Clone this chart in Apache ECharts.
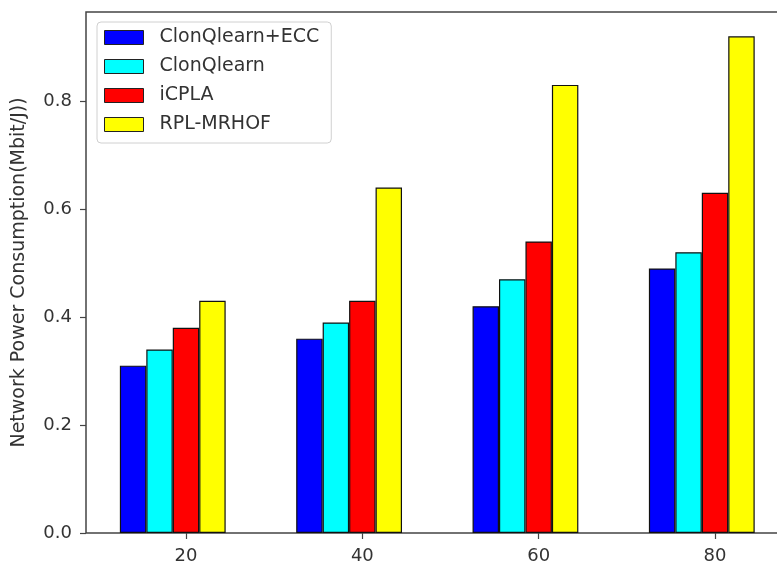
<!DOCTYPE html>
<html>
<head>
<meta charset="utf-8">
<script src="https://cdn.jsdelivr.net/npm/echarts@6/dist/echarts.min.js"></script>
<style>html,body{margin:0;padding:0;background:#fff;overflow:hidden;}#c{width:800px;height:567px;}</style>
</head>
<body>
<div id="c"></div>
<script>
var categories = [20, 40, 60, 80];
var seriesNames = ['ClonQlearn+ECC', 'ClonQlearn', 'iCPLA', 'RPL-MRHOF'];
var clonEcc = [0.31, 0.36, 0.42, 0.49];
var clon = [0.34, 0.39, 0.47, 0.52];
var icpla = [0.38, 0.43, 0.54, 0.63];
var rpl = [0.43, 0.64, 0.83, 0.92];
var yTicks = [0.0, 0.2, 0.4, 0.6, 0.8];

var colors = ['#0000ff', '#00ffff', '#ff0000', '#ffff00'];
var offsets = [-2, -1, 0, 1];
var barUnit = 3;
var xMin = 8.66, xMax = 88.05;
var gridW = 700;
var pxPerUnit = gridW / (xMax - xMin);
var values = [clonEcc, clon, icpla, rpl];

var series = values.map(function (vals, i) {
  return {
    name: seriesNames[i],
    type: 'bar',
    barWidth: barUnit * pxPerUnit,
    barGap: '-100%',
    itemStyle: { color: colors[i], borderColor: '#111', borderWidth: 1.2 },
    data: vals.map(function (v, j) { return [categories[j] + offsets[i] * barUnit, v]; })
  };
});

var chart = echarts.init(document.getElementById('c'), null, { renderer: 'canvas' });
chart.setOption({
  backgroundColor: '#fff',
  animation: false,
  textStyle: { fontFamily: 'DejaVu Sans' },
  grid: { left: 86, top: 12, width: gridW, height: 521, show: true, borderColor: '#444', borderWidth: 1.5, backgroundColor: 'transparent' },
  legend: {
    orient: 'vertical',
    left: 97, top: 22,
    data: seriesNames,
    icon: 'rect',
    itemWidth: 39, itemHeight: 14,
    itemGap: 10,
    padding: [6, 12, 9, 7],
    borderColor: '#d0d0d0', borderWidth: 1, borderRadius: 4,
    backgroundColor: '#fff',
    itemStyle: { borderColor: '#222', borderWidth: 1 },
    textStyle: { fontSize: 19, color: '#333', fontFamily: 'DejaVu Sans', padding: [0, 0, 0, 11], lineHeight: 19 }
  },
  xAxis: {
    type: 'value', min: xMin, max: xMax,
    splitLine: { show: false },
    axisLine: { show: false },
    axisTick: { show: true, length: 6, lineStyle: { color: '#444', width: 1.2 }, customValues: categories },
    axisLabel: { fontSize: 18, color: '#333', margin: 14, customValues: categories, formatter: function (v) { return String(v); } }
  },
  yAxis: {
    type: 'value', min: 0, max: 0.965, interval: 0.2,
    name: 'Network Power Consumption(Mbit/J))',
    nameLocation: 'middle', nameGap: 57,
    nameTextStyle: { fontSize: 19, color: '#333', fontFamily: 'DejaVu Sans' },
    splitLine: { show: false },
    axisLine: { show: false },
    axisTick: { show: true, length: 6, lineStyle: { color: '#444', width: 1.2 } },
    axisLabel: { fontSize: 18, color: '#333', margin: 14, showMaxLabel: false, formatter: function (v) { return v.toFixed(1); } }
  },
  series: series
});
</script>
</body>
</html>
